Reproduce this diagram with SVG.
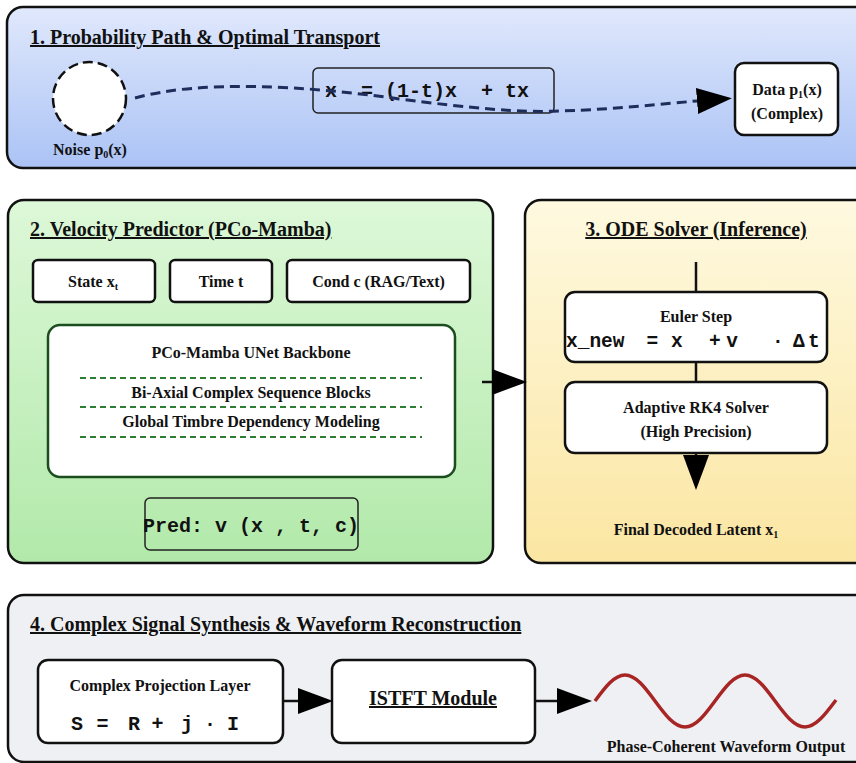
<svg xmlns="http://www.w3.org/2000/svg" width="856" height="763" viewBox="0 0 856 763">
<defs>
<linearGradient id="gBlue" x1="0" y1="0" x2="0" y2="1"><stop offset="0" stop-color="#e0e8fc"/><stop offset="1" stop-color="#abc3f5"/></linearGradient>
<linearGradient id="gGreen" x1="0" y1="0" x2="0" y2="1"><stop offset="0" stop-color="#ddf8d8"/><stop offset="1" stop-color="#b2e9aa"/></linearGradient>
<linearGradient id="gYellow" x1="0" y1="0" x2="0" y2="1"><stop offset="0" stop-color="#fef9e0"/><stop offset="1" stop-color="#fbe6a2"/></linearGradient>
<marker id="arr" markerUnits="userSpaceOnUse" markerWidth="35" markerHeight="26" viewBox="0 0 35 26" refX="0" refY="13" orient="auto"><path d="M0,0 L35,13 L0,26 z" fill="#000"/></marker>
</defs>
<style>
.panel{stroke:#111;stroke-width:2.5}
.box{fill:#fff;stroke:#111;stroke-width:2.5}
.thin{fill:none;stroke:#222;stroke-width:1.5}
.t{font-family:"Liberation Serif","Times New Roman",serif;font-weight:bold;fill:#111}
.title{font-size:20px;text-decoration:underline}
.lbl{font-size:16px}
.mid{text-anchor:middle}
.mono{font-family:"Liberation Mono","Courier New",monospace;font-weight:bold;font-size:20px;fill:#111;white-space:pre}
.sub{font-size:10px}
.sep{stroke:#2e7d32;stroke-width:2;stroke-dasharray:6 4}
.conn{fill:none;stroke:#111;stroke-width:2.5}
</style>

<g id="panel1">
<rect class="panel" x="7" y="7" width="870" height="161" rx="16" fill="url(#gBlue)"/>
<text class="t title" x="30" y="44">1. Probability Path &amp; Optimal Transport</text>
</g>
<g id="noise">
<circle cx="89.5" cy="98.5" r="36.5" fill="#fff" stroke="#111" stroke-width="2.5" stroke-dasharray="10 5"/>
<text class="t lbl mid" x="90" y="155">Noise p<tspan class="sub" dy="3">0</tspan><tspan dy="-3">(x)</tspan></text>
</g>
<g id="formula">
<rect class="thin" x="313" y="68" width="241" height="45" rx="5"/>
<text class="mono" x="325" y="97" xml:space="preserve">x  = (1-t)x  + tx</text>
</g>
<g id="data">
<rect class="box" x="735" y="63" width="103" height="72" rx="9"/>
<text class="t lbl mid" x="787" y="95">Data p<tspan class="sub" dy="3">1</tspan><tspan dy="-3">(x)</tspan></text>
<text class="t lbl mid" x="787" y="119">(Complex)</text>
</g>

<g id="panel2">
<rect class="panel" x="8" y="200" width="485" height="363" rx="16" fill="url(#gGreen)"/>
<text class="t title" x="30" y="236">2. Velocity Predictor (PCo-Mamba)</text>
</g>
<g id="state">
<rect class="box" x="33" y="260" width="122" height="42" rx="5" stroke-width="2"/>
<text class="t lbl mid" x="93" y="287">State x<tspan class="sub" dy="3">t</tspan></text>
</g>
<g id="time">
<rect class="box" x="170" y="260" width="102" height="42" rx="5" stroke-width="2"/>
<text class="t lbl mid" x="221" y="287">Time t</text>
</g>
<g id="cond">
<rect class="box" x="287" y="260" width="183" height="42" rx="5" stroke-width="2"/>
<text class="t lbl mid" x="378.5" y="287">Cond c (RAG/Text)</text>
</g>
<g id="backbone">
<rect x="48" y="325" width="407" height="152" rx="12" fill="#fff" stroke="#1b4d1f" stroke-width="2.5"/>
<text class="t lbl mid" x="251" y="358">PCo-Mamba UNet Backbone</text>
<line class="sep" x1="80" y1="378" x2="422" y2="378"/>
<text class="t lbl mid" x="251" y="398">Bi-Axial Complex Sequence Blocks</text>
<line class="sep" x1="80" y1="407" x2="422" y2="407"/>
<text class="t lbl mid" x="251" y="427">Global Timbre Dependency Modeling</text>
<line class="sep" x1="80" y1="437" x2="422" y2="437"/>
</g>
<g id="pred">
<rect class="thin" x="145" y="498" width="213" height="52" rx="5"/>
<text class="mono" x="143" y="532" xml:space="preserve">Pred: v (x , t, c)</text>
</g>

<g id="panel3">
<rect class="panel" x="525" y="200" width="350" height="363" rx="16" fill="url(#gYellow)"/>
<text class="t title mid" x="696" y="236">3. ODE Solver (Inference)</text>
</g>
<g id="euler">
<rect class="box" x="565" y="292" width="262" height="70" rx="10"/>
<text class="t lbl mid" x="696" y="322">Euler Step</text>
<text class="mono" style="font-size:19.5px" y="347" xml:space="preserve" x="566 577.7 589.4 601.1 612.8 624.5 646.6 658.3 671 682.7 694.4 709 720.7 726.2 737.9 749.6 772 783.7 793 808">x_new = x  + v  · Δt</text>
</g>
<g id="rk4">
<rect class="box" x="565" y="382" width="262" height="71" rx="10"/>
<text class="t lbl mid" x="696" y="413">Adaptive RK4 Solver</text>
<text class="t lbl mid" x="696" y="437">(High Precision)</text>
</g>
<g id="final">
<text class="t lbl mid" x="696" y="535">Final Decoded Latent x<tspan class="sub" dy="3">1</tspan></text>
</g>

<g id="panel4">
<rect class="panel" x="8" y="595" width="870" height="167" rx="16" fill="#eff0f3"/>
<text class="t title" x="30" y="631">4. Complex Signal Synthesis &amp; Waveform Reconstruction</text>
</g>
<g id="projection">
<rect class="box" x="38" y="660" width="245" height="83" rx="10"/>
<text class="t lbl mid" x="160" y="691">Complex Projection Layer</text>
<text class="mono" y="730" xml:space="preserve" x="71 83 96.5 108 128 140 151.5 163 181 193 204 216 227">S = R + j · I</text>
</g>
<g id="istft">
<rect class="box" x="332" y="660" width="203" height="83" rx="10"/>
<text class="t mid" style="font-size:20px;text-decoration:underline" x="433" y="705">ISTFT Module</text>
</g>
<g id="waveform">
<path d="M595,701 C604.78,687.68 614.14,675 625,675 C635.86,675 645.22,687.68 655,701 C664.78,714.32 674.14,727 685,727 C695.86,727 705.22,714.32 715,701 C724.78,687.68 734.14,675 745,675 C755.86,675 765.22,687.68 775,701 C784.78,714.32 794.14,727 805,727 C815.86,727 825.22,714.32 836,700" fill="none" stroke="#a82525" stroke-width="3.5"/>
<text class="t lbl mid" x="726" y="752">Phase-Coherent Waveform Output</text>
</g>

<g id="connectors">
<path d="M135,98 C200,80 300,85 400,99 C470,108 520,113 560,111 C620,109 660,104 697,101" fill="none" stroke="#1f2d5c" stroke-width="3" stroke-dasharray="10 6" marker-end="url(#arr)"/>
<path class="conn" d="M482,382 L492,382" marker-end="url(#arr)"/>
<path class="conn" d="M696,262 L696,292"/>
<path class="conn" d="M696,362 L696,382"/>
<path class="conn" d="M696,453 L696,455" marker-end="url(#arr)"/>
<path class="conn" d="M283,701 L298,701" marker-end="url(#arr)"/>
<path class="conn" d="M535,701 L557,701" marker-end="url(#arr)"/>
</g>
</svg>
